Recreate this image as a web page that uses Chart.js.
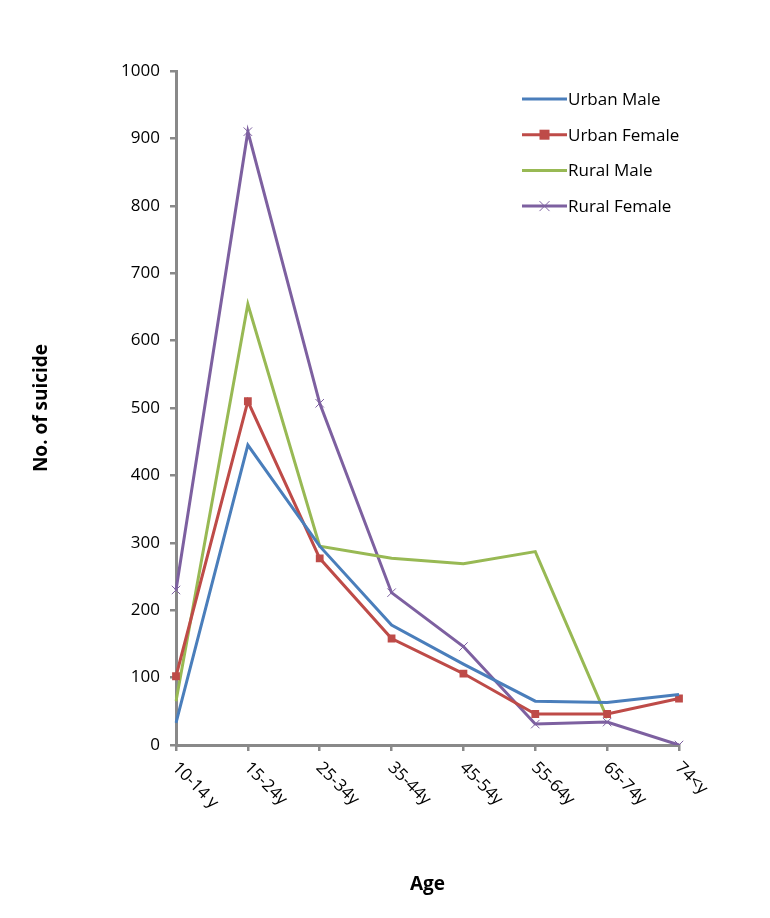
<!DOCTYPE html>
<html>
<head>
<meta charset="utf-8">
<script src="https://cdn.jsdelivr.net/npm/chart.js@4"></script>
<style>
  html, body { margin: 0; padding: 0; background: #fff; }
  #wrap { width: 770px; height: 918px; position: relative; }
</style>
</head>
<body>
<div id="wrap"><canvas id="chart" width="770" height="918"></canvas></div>
<script>
// Suicides by age group, urban/rural and sex.

var ageGroups = ["10-14 y", "15-24y", "25-34y", "35-44y", "45-54y", "55-64y", "65-74y", "74<y"];

var urbanMale   = [33, 445, 295, 178, 120, 65, 63, 75];
var urbanFemale = [102, 510, 277, 158, 106, 46, 46, 69];
var ruralMale   = [65, 654, 295, 277, 269, 287, 40, null];
var ruralFemale = [230, 910, 507, 226, 146, 31, 34, 0];

var yTicks = { min: 0, max: 1000, step: 100 };

var colors = {
  blue: "#4A7EBB",
  red: "#BE4B48",
  green: "#98B954",
  purple: "#7D60A0",
  axis: "#898989",
  ink: "#000000",
};

var font = '"Open Sans", "DejaVu Sans", sans-serif';

// x tick labels run down to the right, drawn by hand
var slantedLabels = {
  id: "slantedLabels",
  afterDraw: function (chart) {
    var ctx = chart.ctx;
    var x = chart.scales.x;
    ctx.save();
    ctx.fillStyle = colors.ink;
    ctx.font = "17px " + font;
    ctx.textAlign = "left";
    ctx.textBaseline = "middle";
    ageGroups.forEach(function (lab, i) {
      var px = x.getPixelForValue(i);
      ctx.save();
      ctx.translate(px - 1, x.top + 20);
      ctx.rotate(Math.PI / 4);
      ctx.fillText(lab, 0, 0);
      ctx.restore();
    });
    ctx.restore();
  },
};

// legend block in the upper right of the plot
var legendBox = {
  id: "legendBox",
  afterDraw: function (chart) {
    var ctx = chart.ctx;
    var x0 = 522, x1 = 567, y0 = 99, gap = 35.7;
    ctx.save();
    ctx.font = "17px " + font;
    ctx.textBaseline = "middle";
    ctx.textAlign = "left";
    chart.data.datasets.forEach(function (ds, i) {
      var y = y0 + i * gap;
      ctx.strokeStyle = ds.borderColor;
      ctx.lineWidth = 3;
      ctx.beginPath();
      ctx.moveTo(x0, y);
      ctx.lineTo(x1, y);
      ctx.stroke();
      var mx = (x0 + x1) / 2;
      if (ds.pointStyle === "rect") {
        ctx.fillStyle = ds.pointBackgroundColor;
        ctx.fillRect(mx - 5, y - 5, 10, 10);
      } else if (ds.pointStyle === "crossRot") {
        ctx.lineWidth = 1;
        ctx.beginPath();
        ctx.moveTo(mx - 5, y - 5); ctx.lineTo(mx + 5, y + 5);
        ctx.moveTo(mx - 5, y + 5); ctx.lineTo(mx + 5, y - 5);
        ctx.stroke();
      }
      ctx.fillStyle = colors.ink;
      ctx.fillText(ds.label, x1 + 1, y + 1);
    });
    ctx.restore();
  },
};

new Chart(document.getElementById("chart"), {
  type: "line",
  data: {
    labels: ageGroups,
    datasets: [
      {
        label: "Urban Male",
        data: urbanMale,
        borderColor: colors.blue,
        borderWidth: 3,
        pointRadius: 0,
        pointStyle: false,
      },
      {
        label: "Urban Female",
        data: urbanFemale,
        borderColor: colors.red,
        backgroundColor: colors.red,
        pointBackgroundColor: colors.red,
        pointBorderColor: colors.red,
        borderWidth: 3,
        pointStyle: "rect",
        pointRadius: 5.5,
        pointBorderWidth: 0,
      },
      {
        label: "Rural Male",
        data: ruralMale,
        borderColor: colors.green,
        borderWidth: 3,
        pointRadius: 0,
        pointStyle: false,
      },
      {
        label: "Rural Female",
        data: ruralFemale,
        borderColor: colors.purple,
        pointBorderColor: colors.purple,
        borderWidth: 3,
        pointStyle: "crossRot",
        pointRadius: 6,
        pointBorderWidth: 1,
      },
    ],
  },
  options: {
    responsive: false,
    animation: false,
    layout: { padding: { top: 71, right: 91, left: 0, bottom: 0 } },
    plugins: {
      legend: { display: false },
      tooltip: { enabled: false },
    },
    scales: {
      x: {
        offset: false,
        afterFit: function (s) { s.height = 173; },
        border: { color: colors.axis, width: 3 },
        grid: { display: true, drawOnChartArea: false, drawTicks: true, tickLength: 6, color: colors.axis, lineWidth: 2.5 },
        ticks: { display: false },
        title: {
          display: true,
          text: "Age",
          color: colors.ink,
          font: { family: font, size: 19, weight: "bold" },
          padding: { top: 0, bottom: 22 },
        },
      },
      y: {
        min: yTicks.min,
        max: yTicks.max,
        afterFit: function (s) { s.width = 176; },
        border: { color: colors.axis, width: 3 },
        grid: { display: true, drawOnChartArea: false, drawTicks: true, tickLength: 6, color: colors.axis, lineWidth: 2.5 },
        ticks: {
          stepSize: yTicks.step,
          color: colors.ink,
          padding: 10,
          font: { family: font, size: 17 },
          callback: function (v) { return String(v); },
        },
        title: {
          display: true,
          text: "No. of suicide",
          color: colors.ink,
          font: { family: font, size: 19, weight: "bold" },
          padding: { top: 30, bottom: 0 },
        },
      },
    },
  },
  plugins: [slantedLabels, legendBox],
});
</script>
</body>
</html>
